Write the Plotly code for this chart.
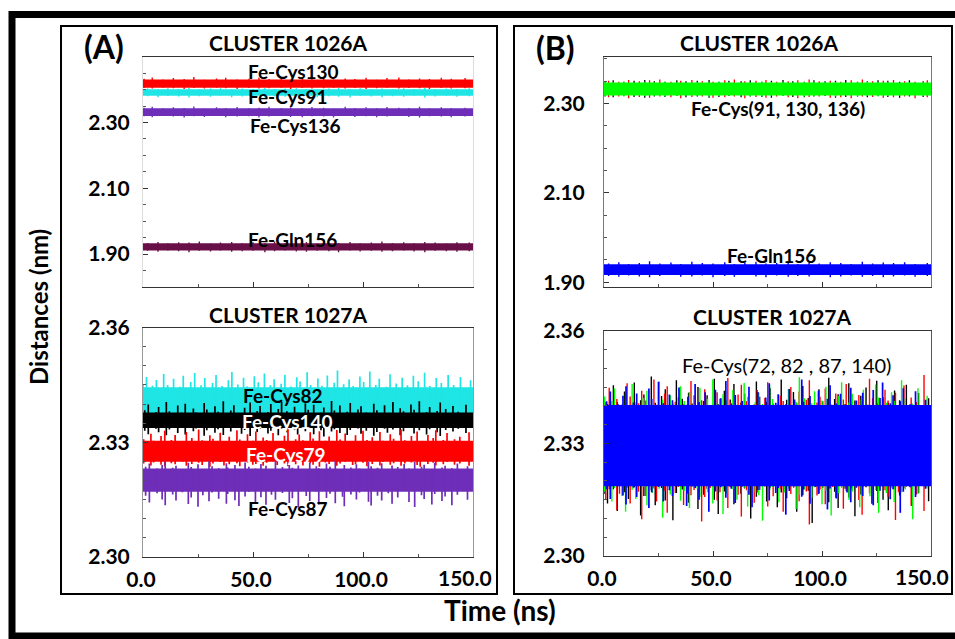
import plotly.graph_objects as go

# ---------------- simulated time span and sampled times (ns) ----------------
T_START, T_END = 0, 150
# times of the fluctuation extremes picked off the thin traces (1026A)
TS1 = [0.5, 4.2, 9.1, 13.8, 18.7, 23.1, 27.9, 33.4, 37.6, 42.8,
       48.2, 52.7, 57.3, 62.9, 67.1, 72.4, 76.8, 82.1, 86.6, 91.9,
       96.3, 101.4, 106.2, 110.9, 116.3, 120.8, 125.7, 130.2, 135.6, 140.1,
       146.4]
TS2 = [2.1, 6.8, 11.3, 16.2, 20.9, 25.6, 30.7, 35.2, 40.3, 45.1,
       50.0, 55.4, 59.8, 64.6, 69.7, 74.3, 79.2, 84.5, 88.9, 94.1,
       98.7, 103.8, 108.6, 113.4, 118.5, 123.2, 128.1, 132.8, 137.9, 142.7,
       148.3]
# times of the fluctuation extremes picked off the wide traces (1027A)
TG1 = [0, 1.6, 4.3, 6.1, 9.4, 11.2, 13.9, 16.8, 18.3, 21.7,
       23.5, 26.4, 28.1, 31.6, 33.2, 35.9, 38.8, 40.4, 43.1, 45.7,
       47.3, 50.6, 52.4, 55.2, 57.9, 59.6, 62.8, 64.5, 67.3, 69.9,
       71.4, 74.6, 76.2, 79.5, 81.3, 83.8, 86.9, 88.4, 91.2, 93.7,
       95.5, 98.6, 100.3, 103.1, 105.8, 107.4, 110.6, 112.3, 115.1, 117.8,
       120.2, 122.9, 125.1, 128.0, 130.4, 133.3, 135.6, 138.7, 141.2, 144.3,
       148.9]
TG2 = [0.8, 2.4, 5.9, 7.1, 10.6, 12.0, 15.8, 17.3, 19.2, 22.9,
       24.1, 27.8, 29.0, 32.7, 34.1, 36.5, 39.9, 41.3, 44.8, 46.2,
       48.7, 51.9, 53.2, 56.8, 58.1, 61.5, 63.0, 65.4, 68.9, 70.3,
       73.8, 75.1, 77.6, 80.9, 82.2, 85.7, 87.0, 89.5, 92.8, 94.2,
       97.7, 99.1, 101.5, 104.9, 106.3, 109.8, 111.1, 113.6, 116.9, 118.4,
       121.8, 123.2, 125.6, 128.9, 130.3, 133.7, 135.1, 137.6, 140.9, 143.3,
       146.8]
TG3 = [0.3, 3.6, 4.8, 8.2, 9.9, 12.9, 14.6, 18.0, 19.7, 22.2,
       25.3, 26.9, 30.4, 31.8, 35.1, 36.8, 39.2, 42.7, 44.0, 47.5,
       49.9, 51.3, 54.6, 56.2, 59.1, 61.0, 64.3, 65.9, 69.4, 71.0,
       72.7, 76.0, 77.3, 80.2, 82.9, 84.6, 88.1, 89.6, 91.9, 95.3,
       96.6, 100.0, 101.8, 104.2, 107.7, 109.0, 112.4, 113.9, 117.3, 119.0,
       122.0, 124.6, 126.0, 129.5, 131.9, 133.1, 136.5, 138.2, 141.6, 144.0,
       148.2]
TG4 = [1.2, 2.9, 6.4, 8.7, 10.1, 13.5, 15.0, 17.9, 20.6, 21.9,
       25.0, 27.2, 30.0, 31.4, 34.4, 37.9, 38.5, 41.8, 43.6, 46.4,
       48.1, 51.1, 53.6, 55.9, 58.4, 60.2, 63.4, 66.5, 67.9, 70.6,
       74.2, 75.8, 78.8, 79.9, 83.4, 85.0, 87.4, 90.7, 91.5, 94.5,
       97.0, 98.4, 102.5, 103.7, 106.6, 108.5, 111.5, 113.2, 115.8, 118.7,
       120.9, 123.5, 126.6, 127.8, 131.3, 132.6, 135.9, 137.3, 140.4, 142.9,
       147.5]

# Each series: solid core range (lo, hi) plus the tips of the fluctuations
# (upper / lower extremes) at the sampled times, in nm.

# ---------------- (A) CLUSTER 1026A ----------------
A26_CYS130_CORE = (2.406, 2.431)
A26_CYS130_HI = [2.433, 2.437, 2.431, 2.435, 2.432, 2.438, 2.430, 2.434, 2.436, 2.431,
                 2.433, 2.437, 2.432, 2.435, 2.430, 2.436, 2.433, 2.438, 2.431, 2.434,
                 2.432, 2.436, 2.430, 2.435, 2.437, 2.431, 2.434, 2.432, 2.436, 2.433,
                 2.435]
A26_CYS130_LO = [2.405, 2.403, 2.406, 2.404, 2.402, 2.405, 2.403, 2.406, 2.404, 2.402,
                 2.405, 2.403, 2.404, 2.406, 2.402, 2.405, 2.403, 2.404, 2.406, 2.403,
                 2.405, 2.402, 2.404, 2.406, 2.403, 2.405, 2.404, 2.402, 2.405, 2.403,
                 2.404]
A26_CYS91_CORE = (2.381, 2.401)
A26_CYS91_HI = [2.403, 2.401, 2.404, 2.402, 2.405, 2.401, 2.403, 2.404, 2.400, 2.403,
                2.402, 2.405, 2.401, 2.403, 2.404, 2.402, 2.400, 2.403, 2.405, 2.401,
                2.404, 2.402, 2.403, 2.400, 2.404, 2.402, 2.405, 2.401, 2.403, 2.402,
                2.404]
A26_CYS91_LO = [2.380, 2.377, 2.381, 2.379, 2.376, 2.380, 2.378, 2.382, 2.377, 2.379,
                2.381, 2.376, 2.380, 2.378, 2.379, 2.382, 2.377, 2.380, 2.378, 2.376,
                2.381, 2.379, 2.377, 2.380, 2.378, 2.382, 2.376, 2.379, 2.381, 2.378,
                2.380]
A26_CYS136_CORE = (2.320, 2.343)
A26_CYS136_HI = [2.345, 2.348, 2.343, 2.346, 2.344, 2.349, 2.342, 2.346, 2.344, 2.347,
                 2.343, 2.345, 2.348, 2.344, 2.346, 2.343, 2.347, 2.345, 2.342, 2.348,
                 2.344, 2.346, 2.343, 2.347, 2.345, 2.344, 2.348, 2.343, 2.346, 2.344,
                 2.345]
A26_CYS136_LO = [2.319, 2.316, 2.320, 2.318, 2.315, 2.319, 2.317, 2.320, 2.316, 2.318,
                 2.319, 2.315, 2.318, 2.320, 2.317, 2.316, 2.319, 2.318, 2.315, 2.320,
                 2.317, 2.319, 2.316, 2.318, 2.320, 2.317, 2.315, 2.319, 2.318, 2.316,
                 2.318]
A26_GLN156_CORE = (1.911, 1.933)
A26_GLN156_HI = [1.934, 1.937, 1.933, 1.936, 1.935, 1.938, 1.932, 1.935, 1.937, 1.933,
                 1.936, 1.934, 1.938, 1.933, 1.935, 1.937, 1.932, 1.936, 1.934, 1.937,
                 1.933, 1.935, 1.938, 1.934, 1.936, 1.933, 1.937, 1.935, 1.932, 1.936,
                 1.935]
A26_GLN156_LO = [1.910, 1.907, 1.911, 1.909, 1.906, 1.910, 1.908, 1.911, 1.907, 1.909,
                 1.910, 1.906, 1.909, 1.911, 1.908, 1.907, 1.910, 1.909, 1.906, 1.911,
                 1.908, 1.910, 1.907, 1.909, 1.911, 1.908, 1.906, 1.910, 1.909, 1.907,
                 1.909]

# ---------------- (A) CLUSTER 1027A ----------------
A27_CYS82_CORE = (2.3362, 2.3444)
A27_CYS82_HI = [2.3452, 2.3471, 2.3448, 2.3463, 2.3479, 2.3450, 2.3466, 2.3445, 2.3474, 2.3458,
                2.3481, 2.3449, 2.3468, 2.3455, 2.3476, 2.3447, 2.3462, 2.3484, 2.3451, 2.3469,
                2.3446, 2.3473, 2.3457, 2.3480, 2.3449, 2.3465, 2.3453, 2.3477, 2.3446, 2.3470,
                2.3459, 2.3483, 2.3450, 2.3467, 2.3448, 2.3475, 2.3456, 2.3488, 2.3452, 2.3464,
                2.3447, 2.3472, 2.3458, 2.3485, 2.3450, 2.3466, 2.3445, 2.3478, 2.3454, 2.3469,
                2.3449, 2.3474, 2.3460, 2.3482, 2.3447, 2.3468, 2.3455, 2.3476, 2.3450, 2.3471,
                2.3462]
A27_CYS82_LO = [2.3362, 2.3365, 2.3360, 2.3364, 2.3361, 2.3366, 2.3363, 2.3360, 2.3365, 2.3362,
                2.3364, 2.3361, 2.3366, 2.3363, 2.3360, 2.3365, 2.3362, 2.3364, 2.3361, 2.3366,
                2.3363, 2.3360, 2.3365, 2.3362, 2.3364, 2.3361, 2.3366, 2.3363, 2.3360, 2.3365,
                2.3362, 2.3364, 2.3361, 2.3366, 2.3363, 2.3360, 2.3365, 2.3362, 2.3364, 2.3361,
                2.3366, 2.3363, 2.3360, 2.3365, 2.3362, 2.3364, 2.3361, 2.3366, 2.3363, 2.3360,
                2.3365, 2.3362, 2.3364, 2.3361, 2.3366, 2.3363, 2.3360, 2.3365, 2.3362, 2.3364,
                2.3361]
A27_CYS140_CORE = (2.3337, 2.3378)
A27_CYS140_HI = [2.3384, 2.3399, 2.3379, 2.3392, 2.3405, 2.3381, 2.3396, 2.3377, 2.3401, 2.3388,
                 2.3378, 2.3403, 2.3386, 2.3394, 2.3380, 2.3407, 2.3383, 2.3397, 2.3376, 2.3390,
                 2.3404, 2.3382, 2.3395, 2.3379, 2.3400, 2.3387, 2.3406, 2.3381, 2.3393, 2.3378,
                 2.3402, 2.3385, 2.3398, 2.3377, 2.3391, 2.3408, 2.3383, 2.3396, 2.3380, 2.3403,
                 2.3386, 2.3394, 2.3378, 2.3401, 2.3384, 2.3397, 2.3376, 2.3405, 2.3389, 2.3381,
                 2.3399, 2.3385, 2.3407, 2.3379, 2.3392, 2.3382, 2.3404, 2.3387, 2.3395, 2.3380,
                 2.3398]
A27_CYS140_LO = [2.3330, 2.3321, 2.3335, 2.3326, 2.3318, 2.3333, 2.3324, 2.3337, 2.3320, 2.3329,
                 2.3336, 2.3317, 2.3331, 2.3325, 2.3334, 2.3319, 2.3328, 2.3338, 2.3322, 2.3332,
                 2.3316, 2.3327, 2.3335, 2.3323, 2.3330, 2.3318, 2.3336, 2.3326, 2.3333, 2.3320,
                 2.3329, 2.3337, 2.3321, 2.3331, 2.3315, 2.3328, 2.3334, 2.3324, 2.3319, 2.3332,
                 2.3336, 2.3322, 2.3330, 2.3317, 2.3327, 2.3335, 2.3325, 2.3333, 2.3318, 2.3329,
                 2.3337, 2.3323, 2.3331, 2.3320, 2.3334, 2.3326, 2.3316, 2.3332, 2.3328, 2.3335,
                 2.3324]
A27_CYS79_CORE = (2.3249, 2.3304)
A27_CYS79_HI = [2.3308, 2.3322, 2.3304, 2.3316, 2.3330, 2.3306, 2.3319, 2.3303, 2.3327, 2.3311,
                2.3333, 2.3305, 2.3318, 2.3309, 2.3325, 2.3302, 2.3314, 2.3331, 2.3307, 2.3321,
                2.3304, 2.3328, 2.3312, 2.3306, 2.3324, 2.3303, 2.3317, 2.3334, 2.3308, 2.3320,
                2.3305, 2.3326, 2.3310, 2.3329, 2.3304, 2.3315, 2.3332, 2.3307, 2.3323, 2.3302,
                2.3318, 2.3330, 2.3306, 2.3313, 2.3327, 2.3304, 2.3321, 2.3309, 2.3333, 2.3305,
                2.3316, 2.3328, 2.3303, 2.3319, 2.3311, 2.3331, 2.3306, 2.3324, 2.3308, 2.3314,
                2.3326]
A27_CYS79_LO = [2.3244, 2.3239, 2.3247, 2.3241, 2.3237, 2.3245, 2.3242, 2.3249, 2.3238, 2.3243,
                2.3246, 2.3240, 2.3236, 2.3244, 2.3248, 2.3239, 2.3242, 2.3245, 2.3237, 2.3247,
                2.3241, 2.3243, 2.3238, 2.3246, 2.3250, 2.3240, 2.3244, 2.3237, 2.3242, 2.3248,
                2.3239, 2.3245, 2.3241, 2.3236, 2.3247, 2.3243, 2.3238, 2.3244, 2.3249, 2.3240,
                2.3242, 2.3246, 2.3237, 2.3243, 2.3239, 2.3248, 2.3241, 2.3245, 2.3238, 2.3244,
                2.3247, 2.3240, 2.3236, 2.3243, 2.3246, 2.3239, 2.3242, 2.3249, 2.3241, 2.3244,
                2.3238]
A27_CYS87_CORE = (2.3170, 2.3231)
A27_CYS87_HI = [2.3236, 2.3244, 2.3231, 2.3240, 2.3249, 2.3233, 2.3238, 2.3229, 2.3246, 2.3235,
                2.3242, 2.3230, 2.3251, 2.3237, 2.3232, 2.3245, 2.3234, 2.3240, 2.3228, 2.3247,
                2.3236, 2.3231, 2.3243, 2.3238, 2.3230, 2.3250, 2.3235, 2.3241, 2.3233, 2.3239,
                2.3229, 2.3246, 2.3237, 2.3232, 2.3244, 2.3236, 2.3252, 2.3230, 2.3240, 2.3234,
                2.3242, 2.3231, 2.3248, 2.3237, 2.3233, 2.3245, 2.3229, 2.3239, 2.3235, 2.3243,
                2.3231, 2.3249, 2.3236, 2.3241, 2.3230, 2.3246, 2.3234, 2.3238, 2.3232, 2.3244,
                2.3237]
A27_CYS87_LO = [2.3160, 2.3142, 2.3166, 2.3150, 2.3135, 2.3163, 2.3147, 2.3169, 2.3138, 2.3155,
                2.3131, 2.3161, 2.3145, 2.3168, 2.3152, 2.3139, 2.3164, 2.3148, 2.3133, 2.3158,
                2.3170, 2.3143, 2.3156, 2.3136, 2.3162, 2.3149, 2.3167, 2.3141, 2.3153, 2.3129,
                2.3159, 2.3146, 2.3171, 2.3137, 2.3154, 2.3165, 2.3140, 2.3157, 2.3132, 2.3163,
                2.3150, 2.3168, 2.3144, 2.3134, 2.3160, 2.3147, 2.3166, 2.3139, 2.3155, 2.3172,
                2.3143, 2.3130, 2.3161, 2.3151, 2.3137, 2.3164, 2.3146, 2.3158, 2.3135, 2.3162,
                2.3149]

# ---------------- (B) CLUSTER 1026A ----------------
B26_BLACK_CORE = (2.320, 2.345)
B26_BLACK_HI = [2.350, 2.352, 2.349, 2.351, 2.353, 2.350, 2.349, 2.352, 2.350, 2.351,
                2.353, 2.349, 2.351, 2.350, 2.352, 2.349, 2.351, 2.353, 2.350, 2.349,
                2.352, 2.350, 2.351, 2.353, 2.349, 2.350, 2.352, 2.351, 2.349, 2.352,
                2.350]
B26_BLACK_LO = [2.316, 2.314, 2.317, 2.315, 2.313, 2.316, 2.315, 2.317, 2.314, 2.316,
                2.313, 2.315, 2.317, 2.314, 2.316, 2.315, 2.313, 2.317, 2.315, 2.314,
                2.316, 2.317, 2.313, 2.315, 2.316, 2.314, 2.317, 2.315, 2.313, 2.316,
                2.315]
B26_RED_CORE = (2.320, 2.345)
B26_RED_HI = [2.351, 2.349, 2.353, 2.350, 2.352, 2.354, 2.349, 2.351, 2.353, 2.350,
              2.349, 2.352, 2.354, 2.350, 2.351, 2.353, 2.349, 2.350, 2.352, 2.354,
              2.350, 2.351, 2.349, 2.352, 2.354, 2.350, 2.351, 2.353, 2.350, 2.349,
              2.352]
B26_RED_LO = [2.314, 2.316, 2.312, 2.315, 2.313, 2.316, 2.314, 2.312, 2.315, 2.316,
              2.313, 2.314, 2.316, 2.312, 2.315, 2.313, 2.316, 2.314, 2.312, 2.315,
              2.316, 2.313, 2.314, 2.312, 2.316, 2.315, 2.313, 2.314, 2.316, 2.312,
              2.314]
B26_GREEN_CORE = (2.318, 2.347)
B26_GREEN_HI = [2.348, 2.347, 2.349, 2.346, 2.348, 2.347, 2.349, 2.348, 2.346, 2.348,
                2.347, 2.349, 2.348, 2.346, 2.347, 2.349, 2.348, 2.347, 2.346, 2.348,
                2.349, 2.347, 2.348, 2.346, 2.348, 2.349, 2.347, 2.348, 2.346, 2.347,
                2.348]
B26_GREEN_LO = [2.317, 2.318, 2.316, 2.319, 2.317, 2.318, 2.316, 2.317, 2.319, 2.318,
                2.316, 2.317, 2.318, 2.319, 2.317, 2.316, 2.318, 2.317, 2.319, 2.316,
                2.317, 2.318, 2.316, 2.319, 2.317, 2.318, 2.316, 2.317, 2.318, 2.319,
                2.317]
B26_GLN156_CORE = (1.916, 1.940)
B26_GLN156_HI = [1.942, 1.945, 1.941, 1.943, 1.947, 1.942, 1.944, 1.941, 1.946, 1.943,
                 1.942, 1.945, 1.941, 1.944, 1.946, 1.942, 1.943, 1.947, 1.941, 1.944,
                 1.942, 1.945, 1.943, 1.941, 1.946, 1.942, 1.944, 1.943, 1.945, 1.941,
                 1.943]
B26_GLN156_LO = [1.914, 1.912, 1.915, 1.913, 1.911, 1.914, 1.916, 1.912, 1.913, 1.915,
                 1.911, 1.914, 1.912, 1.916, 1.913, 1.911, 1.915, 1.912, 1.914, 1.913,
                 1.916, 1.911, 1.913, 1.915, 1.912, 1.914, 1.911, 1.913, 1.915, 1.912,
                 1.914]

# ---------------- (B) CLUSTER 1027A ----------------
B27_BLACK_CORE = (2.3190, 2.3400)
B27_BLACK_HI = [2.3420, 2.3405, 2.3455, 2.3410, 2.3438, 2.3400, 2.3462, 2.3415, 2.3430, 2.3478,
                2.3408, 2.3426, 2.3444, 2.3402, 2.3468, 2.3419, 2.3435, 2.3406, 2.3450, 2.3413,
                2.3428, 2.3472, 2.3404, 2.3440, 2.3417, 2.3458, 2.3409, 2.3433, 2.3401, 2.3465,
                2.3424, 2.3411, 2.3447, 2.3403, 2.3470, 2.3416, 2.3437, 2.3407, 2.3453, 2.3421,
                2.3400, 2.3444, 2.3412, 2.3475, 2.3418, 2.3431, 2.3405, 2.3460, 2.3414, 2.3427,
                2.3449, 2.3402, 2.3467, 2.3423, 2.3409, 2.3441, 2.3415, 2.3456, 2.3406, 2.3434,
                2.3420]
B27_BLACK_LO = [2.3165, 2.3140, 2.3178, 2.3120, 2.3170, 2.3152, 2.3183, 2.3108, 2.3160, 2.3175,
                2.3135, 2.3181, 2.3148, 2.3095, 2.3168, 2.3177, 2.3142, 2.3185, 2.3125, 2.3163,
                2.3179, 2.3150, 2.3112, 2.3172, 2.3184, 2.3138, 2.3166, 2.3180, 2.3100, 2.3158,
                2.3176, 2.3145, 2.3182, 2.3130, 2.3169, 2.3154, 2.3186, 2.3118, 2.3162, 2.3174,
                2.3088, 2.3167, 2.3181, 2.3143, 2.3171, 2.3128, 2.3179, 2.3156, 2.3106, 2.3164,
                2.3183, 2.3139, 2.3173, 2.3150, 2.3122, 2.3177, 2.3161, 2.3185, 2.3133, 2.3168,
                2.3146]
B27_RED_CORE = (2.3190, 2.3400)
B27_RED_HI = [2.3410, 2.3448, 2.3418, 2.3402, 2.3460, 2.3425, 2.3407, 2.3440, 2.3414, 2.3470,
              2.3403, 2.3432, 2.3452, 2.3411, 2.3423, 2.3405, 2.3466, 2.3428, 2.3415, 2.3444,
              2.3401, 2.3436, 2.3419, 2.3474, 2.3408, 2.3430, 2.3456, 2.3412, 2.3404, 2.3442,
              2.3421, 2.3463, 2.3406, 2.3427, 2.3413, 2.3450, 2.3402, 2.3438, 2.3416, 2.3468,
              2.3409, 2.3424, 2.3446, 2.3403, 2.3433, 2.3417, 2.3458, 2.3405, 2.3429, 2.3411,
              2.3472, 2.3420, 2.3407, 2.3443, 2.3414, 2.3435, 2.3401, 2.3454, 2.3422, 2.3410,
              2.3482]
B27_RED_LO = [2.3150, 2.3178, 2.3122, 2.3166, 2.3182, 2.3140, 2.3171, 2.3098, 2.3160, 2.3180,
              2.3145, 2.3174, 2.3115, 2.3168, 2.3184, 2.3136, 2.3162, 2.3176, 2.3092, 2.3157,
              2.3181, 2.3148, 2.3170, 2.3128, 2.3183, 2.3163, 2.3105, 2.3175, 2.3142, 2.3169,
              2.3185, 2.3132, 2.3159, 2.3179, 2.3118, 2.3165, 2.3182, 2.3146, 2.3172, 2.3084,
              2.3161, 2.3177, 2.3138, 2.3184, 2.3155, 2.3126, 2.3173, 2.3180, 2.3149, 2.3110,
              2.3167, 2.3183, 2.3141, 2.3175, 2.3158, 2.3096, 2.3170, 2.3181, 2.3134, 2.3164,
              2.3120]
B27_GREEN_CORE = (2.3190, 2.3400)
B27_GREEN_HI = [2.3425, 2.3412, 2.3446, 2.3404, 2.3433, 2.3458, 2.3409, 2.3421, 2.3440, 2.3402,
                2.3465, 2.3417, 2.3428, 2.3406, 2.3452, 2.3413, 2.3437, 2.3401, 2.3448, 2.3419,
                2.3470, 2.3408, 2.3431, 2.3415, 2.3442, 2.3403, 2.3461, 2.3424, 2.3410, 2.3435,
                2.3405, 2.3455, 2.3418, 2.3429, 2.3402, 2.3445, 2.3411, 2.3476, 2.3420, 2.3407,
                2.3439, 2.3414, 2.3451, 2.3404, 2.3426, 2.3463, 2.3409, 2.3432, 2.3416, 2.3443,
                2.3401, 2.3457, 2.3422, 2.3408, 2.3436, 2.3413, 2.3468, 2.3419, 2.3405, 2.3447,
                2.3427]
B27_GREEN_LO = [2.3172, 2.3145, 2.3181, 2.3160, 2.3118, 2.3176, 2.3152, 2.3184, 2.3135, 2.3168,
                2.3179, 2.3102, 2.3164, 2.3183, 2.3147, 2.3173, 2.3128, 2.3180, 2.3157, 2.3170,
                2.3140, 2.3185, 2.3112, 2.3166, 2.3178, 2.3150, 2.3182, 2.3132, 2.3171, 2.3162,
                2.3094, 2.3175, 2.3184, 2.3143, 2.3169, 2.3180, 2.3125, 2.3163, 2.3177, 2.3155,
                2.3183, 2.3138, 2.3174, 2.3108, 2.3167, 2.3181, 2.3149, 2.3172, 2.3130, 2.3185,
                2.3159, 2.3176, 2.3115, 2.3168, 2.3182, 2.3144, 2.3170, 2.3178, 2.3098, 2.3165,
                2.3180]
B27_BLUE_CORE = (2.3186, 2.3402)
B27_BLUE_HI = [2.3412, 2.3438, 2.3405, 2.3427, 2.3452, 2.3409, 2.3433, 2.3401, 2.3446, 2.3418,
               2.3464, 2.3407, 2.3430, 2.3415, 2.3449, 2.3403, 2.3424, 2.3458, 2.3410, 2.3436,
               2.3400, 2.3443, 2.3420, 2.3466, 2.3406, 2.3429, 2.3413, 2.3451, 2.3402, 2.3437,
               2.3422, 2.3460, 2.3408, 2.3431, 2.3404, 2.3445, 2.3417, 2.3470, 2.3411, 2.3426,
               2.3399, 2.3440, 2.3419, 2.3455, 2.3406, 2.3432, 2.3401, 2.3448, 2.3414, 2.3435,
               2.3403, 2.3442, 2.3421, 2.3462, 2.3407, 2.3428, 2.3412, 2.3447, 2.3404, 2.3439,
               2.3416]
B27_BLUE_LO = [2.3178, 2.3152, 2.3186, 2.3161, 2.3137, 2.3182, 2.3157, 2.3189, 2.3128, 2.3170,
               2.3184, 2.3145, 2.3175, 2.3160, 2.3188, 2.3133, 2.3166, 2.3181, 2.3150, 2.3187,
               2.3118, 2.3172, 2.3183, 2.3155, 2.3179, 2.3141, 2.3185, 2.3163, 2.3130, 2.3176,
               2.3188, 2.3148, 2.3168, 2.3181, 2.3110, 2.3173, 2.3186, 2.3158, 2.3177, 2.3139,
               2.3184, 2.3165, 2.3124, 2.3180, 2.3153, 2.3187, 2.3169, 2.3143, 2.3182, 2.3160,
               2.3189, 2.3135, 2.3174, 2.3185, 2.3151, 2.3178, 2.3115, 2.3171, 2.3183, 2.3157,
               2.3179]

X_TICKS = [0, 50, 100, 150]
X_TICK_TEXT = ["0.0", "50.0", "100.0", "150.0"]
Y26_TICKS = [1.90, 2.10, 2.30]
Y26_TEXT = ["1.90", "2.10", "2.30"]
Y27_TICKS = [2.30, 2.33, 2.36]
Y27_TEXT = ["2.30", "2.33", "2.36"]

RED = "#FF0000"
CYAN = "#1FE5E5"
PURPLE = "#6E2EB8"
MAROON = "#6A1048"
BLACK = "#000000"
GREEN = "#00FF00"
BLUE = "#0000FF"

W, H = 955, 639
FONT = "Lato"


def series(fig, t, hi, lo, core, color, xa, ya, width):
    # solid core of the fluctuating trace over the whole simulation
    fig.add_trace(go.Scatter(
        x=[T_START, T_END, T_END, T_START], y=[core[0], core[0], core[1], core[1]],
        mode="lines", fill="toself", fillcolor=color, line=dict(width=0),
        xaxis=xa, yaxis=ya, hoverinfo="skip", showlegend=False))
    # excursions: one stroke per sampled time from the lowest to the highest value
    xs, ys = [], []
    for ti, h, l in zip(t, hi, lo):
        xs += [ti, ti, None]
        ys += [l, h, None]
    fig.add_trace(go.Scatter(
        x=xs, y=ys, mode="lines", line=dict(color=color, width=width),
        xaxis=xa, yaxis=ya, hoverinfo="skip", showlegend=False))


fig = go.Figure()
# (A) top
series(fig, TS1, A26_CYS130_HI, A26_CYS130_LO, A26_CYS130_CORE, RED, "x", "y", 1.4)
series(fig, TS2, A26_CYS91_HI, A26_CYS91_LO, A26_CYS91_CORE, CYAN, "x", "y", 1.4)
series(fig, TS1, A26_CYS136_HI, A26_CYS136_LO, A26_CYS136_CORE, PURPLE, "x", "y", 1.4)
series(fig, TS2, A26_GLN156_HI, A26_GLN156_LO, A26_GLN156_CORE, MAROON, "x", "y", 1.4)
# (A) bottom
series(fig, TG1, A27_CYS82_HI, A27_CYS82_LO, A27_CYS82_CORE, CYAN, "x2", "y2", 1.7)
series(fig, TG2, A27_CYS140_HI, A27_CYS140_LO, A27_CYS140_CORE, BLACK, "x2", "y2", 1.7)
series(fig, TG3, A27_CYS79_HI, A27_CYS79_LO, A27_CYS79_CORE, RED, "x2", "y2", 1.7)
series(fig, TG4, A27_CYS87_HI, A27_CYS87_LO, A27_CYS87_CORE, PURPLE, "x2", "y2", 1.7)
# (B) top
series(fig, TS1, B26_BLACK_HI, B26_BLACK_LO, B26_BLACK_CORE, BLACK, "x3", "y3", 1.3)
series(fig, TS2, B26_RED_HI, B26_RED_LO, B26_RED_CORE, RED, "x3", "y3", 1.3)
series(fig, TS1, B26_GREEN_HI, B26_GREEN_LO, B26_GREEN_CORE, GREEN, "x3", "y3", 1.3)
series(fig, TS2, B26_GLN156_HI, B26_GLN156_LO, B26_GLN156_CORE, BLUE, "x3", "y3", 1.4)
# (B) bottom
series(fig, TG1, B27_BLACK_HI, B27_BLACK_LO, B27_BLACK_CORE, BLACK, "x4", "y4", 1.4)
series(fig, TG2, B27_RED_HI, B27_RED_LO, B27_RED_CORE, RED, "x4", "y4", 1.4)
series(fig, TG3, B27_GREEN_HI, B27_GREEN_LO, B27_GREEN_CORE, GREEN, "x4", "y4", 1.4)
series(fig, TG4, B27_BLUE_HI, B27_BLUE_LO, B27_BLUE_CORE, BLUE, "x4", "y4", 1.7)


def px_x(a, b):
    return [a / W, b / W]


def px_y(top, bottom):
    return [(H - bottom) / H, (H - top) / H]


tickfont = dict(family=FONT, size=21, color="black", weight="bold")


def xaxis(dom, anchor, labels):
    # the last label ("150.0") is drawn separately, nudged left as in the original
    return dict(domain=dom, anchor=anchor, range=[T_START, T_END], showline=True, mirror=True,
                linecolor="#333", linewidth=1, ticks="inside", ticklen=5, tickcolor="#333",
                tickvals=X_TICKS, ticktext=X_TICK_TEXT[:-1] + [""],
                showticklabels=labels,
                tickfont=tickfont, ticklabelstandoff=4, ticklabelshift=-2,
                showgrid=False, zeroline=False, automargin=False,
                minor=dict(dtick=25, tick0=0, ticks="inside", ticklen=3, tickcolor="#555",
                           showgrid=False),
                fixedrange=True)


def yaxis(dom, anchor, rng, tv, tt, mdt, lc, standoff):
    return dict(domain=dom, anchor=anchor, range=rng, showline=True, mirror=True,
                linecolor=lc, linewidth=1, ticks="inside", ticklen=5, tickcolor="#333",
                tickvals=tv, ticktext=tt, tickfont=tickfont, ticklabelstandoff=standoff,
                showgrid=False, zeroline=False, automargin=False,
                minor=dict(dtick=mdt, ticks="inside", ticklen=3, tickcolor="#555",
                           showgrid=False),
                fixedrange=True)


XA = px_x(143, 473)
XB = px_x(604, 931)
fig.update_layout(
    width=W, height=H, autosize=False,
    margin=dict(l=0, r=0, t=0, b=0, pad=0, autoexpand=False),
    paper_bgcolor="white", plot_bgcolor="white",
    showlegend=False,
    xaxis=xaxis(XA, "y", False),
    yaxis=yaxis(px_y(56.7, 287), "x", [1.8, 2.5], Y26_TICKS, Y26_TEXT, 0.05, "#dddddd", 8),
    xaxis2=xaxis(XA, "y2", True),
    yaxis2=yaxis(px_y(327.7, 556.7), "x2", [2.30, 2.36], Y27_TICKS, Y27_TEXT, 0.005,
                 "#999999", 8),
    xaxis3=xaxis(XB, "y3", False),
    yaxis3=yaxis(px_y(56.7, 286.7), "x3", [1.89, 2.405], Y26_TICKS, Y26_TEXT, 0.05,
                 "#777777", 14),
    xaxis4=xaxis(XB, "y4", True),
    yaxis4=yaxis(px_y(330.7, 556), "x4", [2.30, 2.36], Y27_TICKS, Y27_TEXT, 0.005,
                 "#555555", 14),
)

shapes = [
    # outer thick frame
    dict(type="rect", xref="paper", yref="paper", x0=12 / W, x1=962 / W,
         y0=(H - 636) / H, y1=(H - 14.5) / H, line=dict(color="black", width=7),
         fillcolor="rgba(0,0,0,0)", layer="above"),
    # panel (A) box
    dict(type="rect", xref="paper", yref="paper", x0=61 / W, x1=497 / W,
         y0=(H - 594) / H, y1=(H - 26) / H, line=dict(color="black", width=2),
         fillcolor="rgba(0,0,0,0)", layer="above"),
    # panel (B) box
    dict(type="rect", xref="paper", yref="paper", x0=514 / W, x1=952 / W,
         y0=(H - 594) / H, y1=(H - 26) / H, line=dict(color="black", width=2),
         fillcolor="rgba(0,0,0,0)", layer="above"),
]
fig.update_layout(shapes=shapes)


def ann(text, x, y, size=19, color="black", bold=True, angle=0):
    return dict(text=text, x=x / W, y=1 - y / H, xref="paper", yref="paper",
                xanchor="center", yanchor="middle", showarrow=False, textangle=angle,
                font=dict(family=FONT, size=size, color=color,
                          weight="bold" if bold else "normal"))


def last_xlabel(xref, y, shift):
    return dict(text=X_TICK_TEXT[-1], x=X_TICKS[-1], xref=xref, y=1 - y / H, yref="paper",
                xanchor="center", yanchor="middle", xshift=shift, showarrow=False,
                font=tickfont)


annotations = [
    ann("(A)", 104, 47, size=32),
    ann("(B)", 555, 48, size=32),
    ann("CLUSTER 1026A", 288, 43, size=21),
    ann("CLUSTER 1027A", 288, 314, size=21),
    ann("CLUSTER 1026A", 759, 43, size=21),
    ann("CLUSTER 1027A", 772, 316, size=21),
    ann("Fe-Cys130", 293, 72),
    ann("Fe-Cys91", 288, 97),
    ann("Fe-Cys136", 295, 126),
    ann("Fe-Gln156", 292, 239),
    ann("Fe-Cys82", 283, 395),
    ann("Fe-Cys140", 287, 421, color="white"),
    ann("Fe-Cys79", 286, 455, color="white"),
    ann("Fe-Cys87", 288, 509),
    ann("Fe-Cys(91, 130, 136)", 778, 108),
    ann("Fe-Gln156", 771, 255),
    ann("Fe-Cys(72, 82 , 87, 140)", 786, 365, size=20, bold=False),
    ann("Distances (nm)", 38, 307, size=24, angle=-90),
    ann("Time (ns)", 500, 610, size=28),
    last_xlabel("x2", 577, -8),
    last_xlabel("x4", 576, -9),
]
fig.update_layout(annotations=annotations)

fig.write_html("out.html")
